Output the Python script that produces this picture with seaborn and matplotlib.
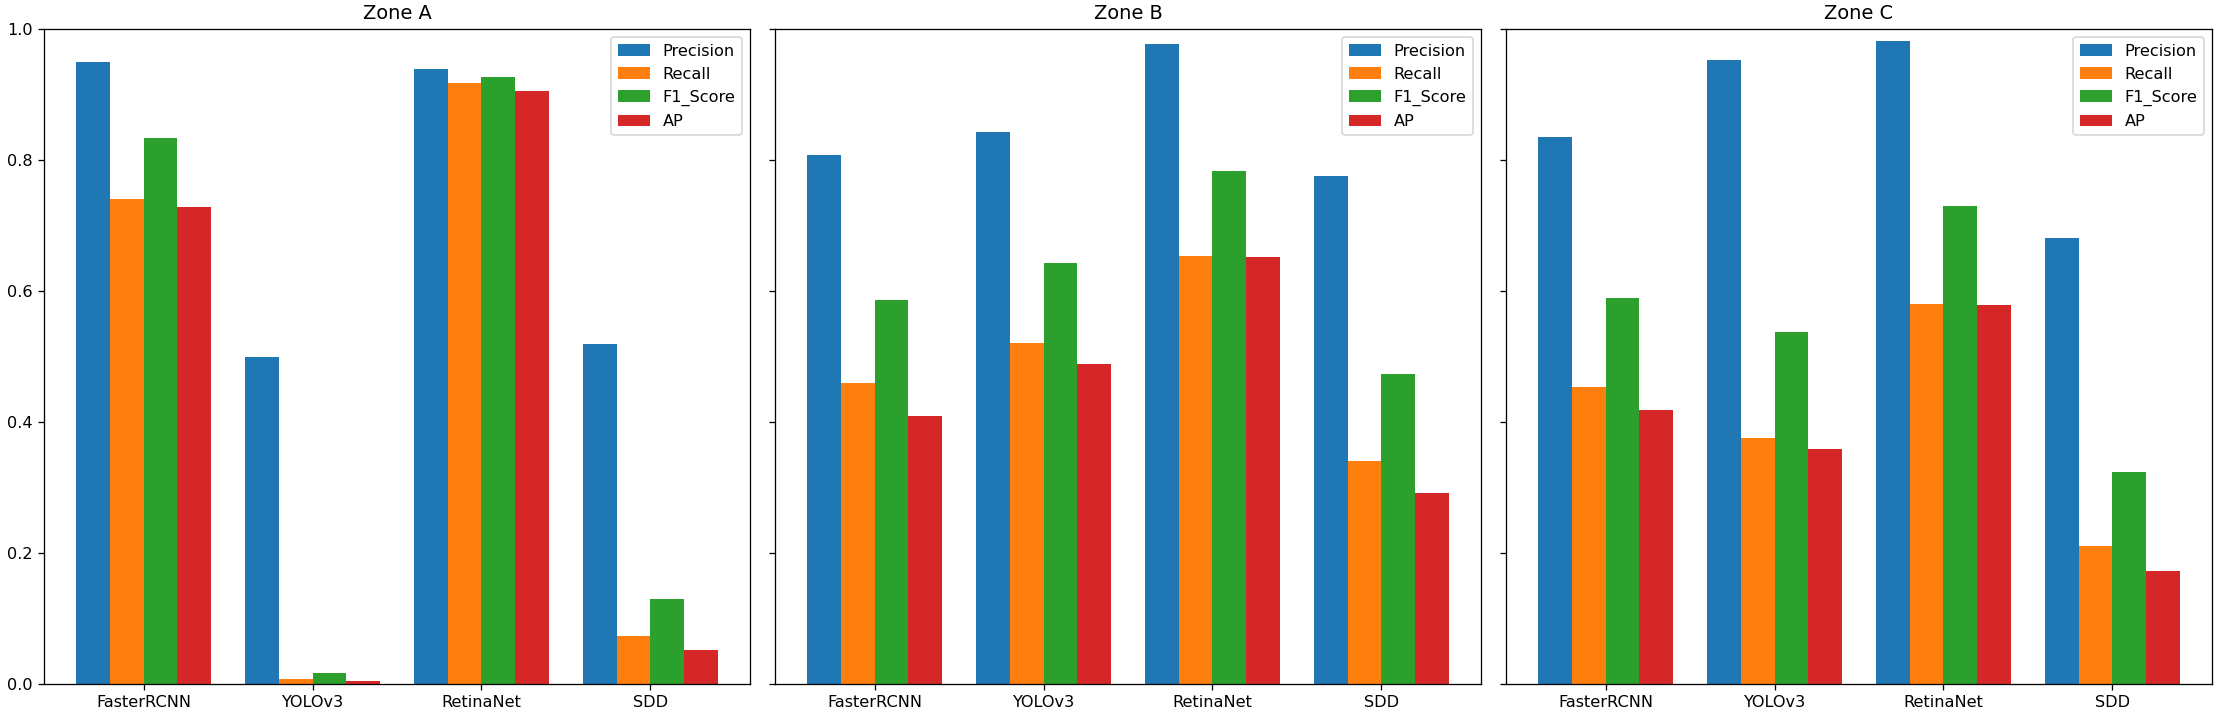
import matplotlib
matplotlib.use("Agg")
import matplotlib.pyplot as plt
import seaborn as sns
import pandas as pd

models = ["FasterRCNN", "YOLOv3", "RetinaNet", "SDD"]
metrics = ["Precision", "Recall", "F1_Score", "AP"]
zones = ["Zone A", "Zone B", "Zone C"]

# values per zone: rows = models, columns = metrics (Precision, Recall, F1_Score, AP)
zone_a = [
    [0.949, 0.741, 0.833, 0.728],
    [0.500, 0.007, 0.017, 0.004],
    [0.939, 0.917, 0.927, 0.905],
    [0.519, 0.074, 0.130, 0.052],
]
zone_b = [
    [0.808, 0.460, 0.586, 0.409],
    [0.842, 0.520, 0.643, 0.489],
    [0.977, 0.654, 0.783, 0.652],
    [0.776, 0.341, 0.474, 0.291],
]
zone_c = [
    [0.835, 0.454, 0.589, 0.419],
    [0.952, 0.375, 0.537, 0.359],
    [0.981, 0.580, 0.730, 0.579],
    [0.681, 0.211, 0.324, 0.173],
]
zone_values = [zone_a, zone_b, zone_c]

palette = ["#1f77b4", "#ff7f0e", "#2ca02c", "#d62728"]

dpi = 116
fig, axes = plt.subplots(1, 3, figsize=(2217 / dpi, 719 / dpi), dpi=dpi, sharey=True)
fig.subplots_adjust(left=44 / 2217, right=2212 / 2217, top=1 - 29 / 719,
                    bottom=1 - 684 / 719, wspace=0.0354)

for ax, zone, vals in zip(axes, zones, zone_values):
    rows = []
    for m, row in zip(models, vals):
        for met, v in zip(metrics, row):
            rows.append({"Model": m, "Metric": met, "Value": v})
    df = pd.DataFrame(rows)
    sns.barplot(data=df, x="Model", y="Value", hue="Metric", order=models,
                hue_order=metrics, palette=palette, saturation=1, width=0.8,
                linewidth=0, errorbar=None, ax=ax)
    ax.set_xlim(-0.59, 3.59)
    ax.set_ylim(0, 1.0)
    ax.set_title(zone)
    ax.set_xlabel("")
    ax.set_ylabel("")
    handles, labels = ax.get_legend_handles_labels()
    if ax.get_legend() is not None:
        ax.get_legend().remove()
    ax.legend(handles, labels, loc="upper right")

fig.savefig("out.png", dpi=dpi)
